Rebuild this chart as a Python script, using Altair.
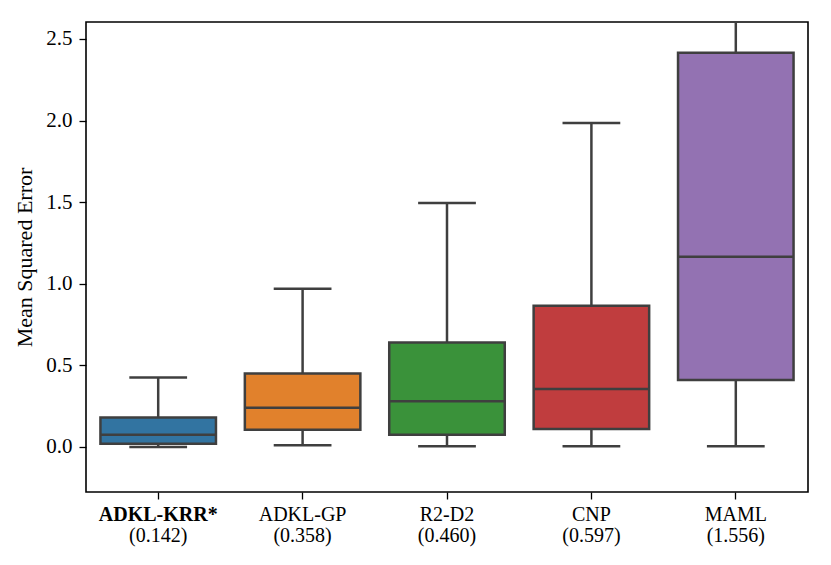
import altair as alt
import pandas as pd

methods = ["ADKL-KRR*", "ADKL-GP", "R2-D2", "CNP", "MAML"]
scores = ["(0.142)", "(0.358)", "(0.460)", "(0.597)", "(1.556)"]
w_low = [0.0, 0.01, 0.005, 0.005, 0.005]
q1 = [0.02, 0.105, 0.075, 0.11, 0.41]
median = [0.075, 0.24, 0.28, 0.355, 1.165]
q3 = [0.18, 0.45, 0.64, 0.865, 2.415]
w_high = [0.425, 0.97, 1.495, 1.985, 3.0]
colors = ["#3274a1", "#e1812c", "#3a923a", "#c03d3e", "#9372b2"]

df = pd.DataFrame({
    "method": methods, "score": scores, "lo": w_low, "q1": q1,
    "med": median, "q3": q3, "hi": w_high, "color": colors,
})

W, H = 722, 470
BAND = W / len(methods)
BOX = BAND * 0.8
EDGE = "#3f3f3f"
FONT = "Liberation Serif"
FS = 20

x = alt.X("method:N", sort=methods, title=None,
          scale=alt.Scale(paddingInner=0, paddingOuter=0),
          axis=alt.Axis(labelFont=FONT, labelFontSize=FS, labelColor="black",
                        labelAngle=0, labelPadding=5, tickColor="black",
                        tickSize=7, tickWidth=1.3, domain=False,
                        labelFontWeight=alt.expr("datum.value == 'ADKL-KRR*' ? 'bold' : 'normal'")))
yscale = alt.Scale(domain=[-0.276, 2.604], nice=False, zero=False)
y_axis = alt.Axis(values=[0, 0.5, 1.0, 1.5, 2.0, 2.5], format=".1f", grid=False,
                  labelFont=FONT, labelFontSize=21, labelColor="black",
                  tickColor="black", tickSize=7, tickWidth=1.3, domain=False,
                  titleFont=FONT, titleFontSize=22, titleFontWeight="normal",
                  titleColor="black", titlePadding=9, labelPadding=7)

base = alt.Chart(df)

whisk_lo = base.mark_rule(color=EDGE, strokeWidth=2.5).encode(
    x=x, y=alt.Y("lo:Q", scale=yscale, axis=y_axis, title="Mean Squared Error"),
    y2="q1:Q")
whisk_hi = base.mark_rule(color=EDGE, strokeWidth=2.5, clip=True).encode(
    x=x, y=alt.Y("q3:Q", scale=yscale), y2="hi:Q")
box = base.mark_bar(size=BOX, stroke=EDGE, strokeWidth=2.5).encode(
    x=x, y=alt.Y("q1:Q", scale=yscale), y2="q3:Q",
    color=alt.Color("color:N", scale=None))
med = base.mark_tick(size=BOX, thickness=2.5, color=EDGE, opacity=1).encode(
    x=x, y=alt.Y("med:Q", scale=yscale))
cap_lo = base.mark_tick(size=BOX / 2, thickness=2.5, color=EDGE, opacity=1).encode(
    x=x, y=alt.Y("lo:Q", scale=yscale))
cap_hi = base.mark_tick(size=BOX / 2, thickness=2.5, color=EDGE, opacity=1, clip=True).encode(
    x=x, y=alt.Y("hi:Q", scale=yscale))
score_text = base.mark_text(font=FONT, fontSize=FS, color="black", baseline="middle").encode(
    x=x, y=alt.value(H + 44), text="score:N")

chart = alt.layer(whisk_lo, whisk_hi, box, med, cap_lo, cap_hi, score_text).properties(
    width=W, height=H,
    background="white",
    autosize=alt.AutoSizeParams(type="none"),
    padding={"left": 78, "top": 14, "right": 10, "bottom": 60},
).configure_view(stroke="black", strokeWidth=1.6)

chart.save("out.html", embed_options={"renderer": "svg", "actions": False})
